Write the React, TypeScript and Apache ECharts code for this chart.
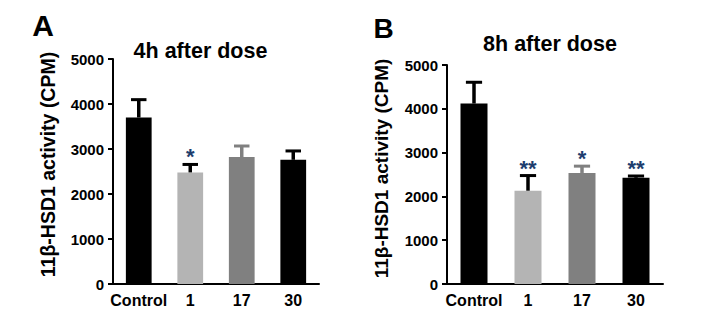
import React, { useEffect, useRef } from "react";
import * as echarts from "echarts";

const categories = ["Control", "1", "17", "30"];
const meanA = [3700, 2480, 2820, 2760];
const errTopA = [4130, 2690, 3100, 2990];
const sigA = ["", "*", "", ""];
const meanB = [4120, 2130, 2535, 2425];
const errTopB = [4640, 2510, 2725, 2500];
const sigB = ["", "**", "*", "**"];
const yTicks = [0, 1000, 2000, 3000, 4000, 5000];
const yName = "11β-HSD1 activity (CPM)";

const barColors = ["#000000", "#b4b4b4", "#808080", "#000000"];
const errColors = ["#000000", "#000000", "#808080", "#000000"];
const FONT = "'Liberation Sans', Arial, sans-serif";

function errSeries(idx: number, means: number[], tops: number[], sig: string[]) {
  return {
    type: "custom",
    xAxisIndex: idx,
    yAxisIndex: idx,
    z: 5,
    data: means.map((m, i) => [i, m, tops[i]]),
    renderItem: (params: any, api: any) => {
      const i = api.value(0);
      const p0 = api.coord([i, api.value(1)]);
      const p1 = api.coord([i, api.value(2)]);
      const bw = api.size([1, 0])[0];
      const half = bw * 0.15;
      const col = errColors[i];
      const children: any[] = [
        { type: "line", shape: { x1: p0[0], y1: p0[1], x2: p1[0], y2: p1[1] + 1 }, style: { stroke: col, lineWidth: 3.5 } },
        { type: "line", shape: { x1: p1[0] - half, y1: p1[1] + 1.5, x2: p1[0] + half, y2: p1[1] + 1.5 }, style: { stroke: col, lineWidth: 3 } },
      ];
      const s = sig[i];
      if (s) {
        children.push({
          type: "text",
          style: {
            text: s,
            x: p1[0],
            y: p1[1] + 5,
            align: "center",
            verticalAlign: "bottom",
            fill: "#1d3d6e",
            font: `bold 22px ${FONT}`,
          },
        });
      }
      return { type: "group", children };
    },
  };
}

function xAxisCfg(idx: number) {
  return {
    type: "category",
    gridIndex: idx,
    data: categories,
    axisLine: { lineStyle: { color: "#000", width: 2 } },
    axisTick: { alignWithLabel: true, length: 5, lineStyle: { color: "#000", width: 2 } },
    axisLabel: { interval: 0, color: "#000", fontWeight: "bold", fontSize: 16, fontFamily: FONT, margin: 8 },
  };
}

function yAxisCfg(idx: number) {
  return {
    type: "value",
    gridIndex: idx,
    min: 0,
    max: 5000,
    interval: 1000,
    axisLine: { show: true, lineStyle: { color: "#000", width: 2 } },
    axisTick: { show: true, length: 5, lineStyle: { color: "#000", width: 2 } },
    splitLine: { show: false },
    axisLabel: {
      color: "#000",
      fontWeight: 700,
      fontSize: 15,
      fontFamily: FONT,
      margin: 9,
      formatter: (v: number) => (yTicks.includes(v) ? `{b|${v}}` : ""),
      rich: { b: { color: "#000", fontWeight: 700, fontSize: 15, fontFamily: FONT } },
    },
  };
}

const textStyle = (size: number) => ({ font: `bold ${size}px ${FONT}`, fill: "#000", align: "center", verticalAlign: "middle" });

export default function App() {
  const ref = useRef<HTMLDivElement>(null);
  useEffect(() => {
    if (!ref.current) return;
    const chart = echarts.init(ref.current, null, { renderer: "svg" });
    chart.setOption({
      animation: false,
      backgroundColor: "#fff",
      grid: [
        { left: 105, top: 51, width: 206, height: 225 },
        { left: 439, top: 57, width: 216, height: 219 },
      ],
      graphic: [
        { type: "text", x: 35, y: 17, style: { text: "A", ...textStyle(30) } },
        { type: "text", x: 375.5, y: 20, style: { text: "B", ...textStyle(28) } },
        { type: "text", x: 192.5, y: 43, style: { text: "4h after dose", ...textStyle(21.5) } },
        { type: "text", x: 542, y: 36, style: { text: "8h after dose", ...textStyle(21.5) } },
        { type: "text", x: 39.5, y: 156.5, rotation: Math.PI / 2, style: { text: yName, ...textStyle(19.5) } },
        { type: "text", x: 373, y: 160.5, rotation: Math.PI / 2, style: { text: yName, ...textStyle(19) } },
      ],
      xAxis: [xAxisCfg(0), xAxisCfg(1)],
      yAxis: [yAxisCfg(0), yAxisCfg(1)],
      series: [
        {
          type: "bar",
          xAxisIndex: 0,
          yAxisIndex: 0,
          barWidth: "50%",
          data: meanA.map((v, i) => ({ value: v, itemStyle: { color: barColors[i] } })),
        },
        errSeries(0, meanA, errTopA, sigA),
        {
          type: "bar",
          xAxisIndex: 1,
          yAxisIndex: 1,
          barWidth: "50%",
          data: meanB.map((v, i) => ({ value: v, itemStyle: { color: barColors[i] } })),
        },
        errSeries(1, meanB, errTopB, sigB),
      ],
    });
    return () => chart.dispose();
  }, []);
  return <div ref={ref} style={{ width: 685, height: 302 }} />;
}
